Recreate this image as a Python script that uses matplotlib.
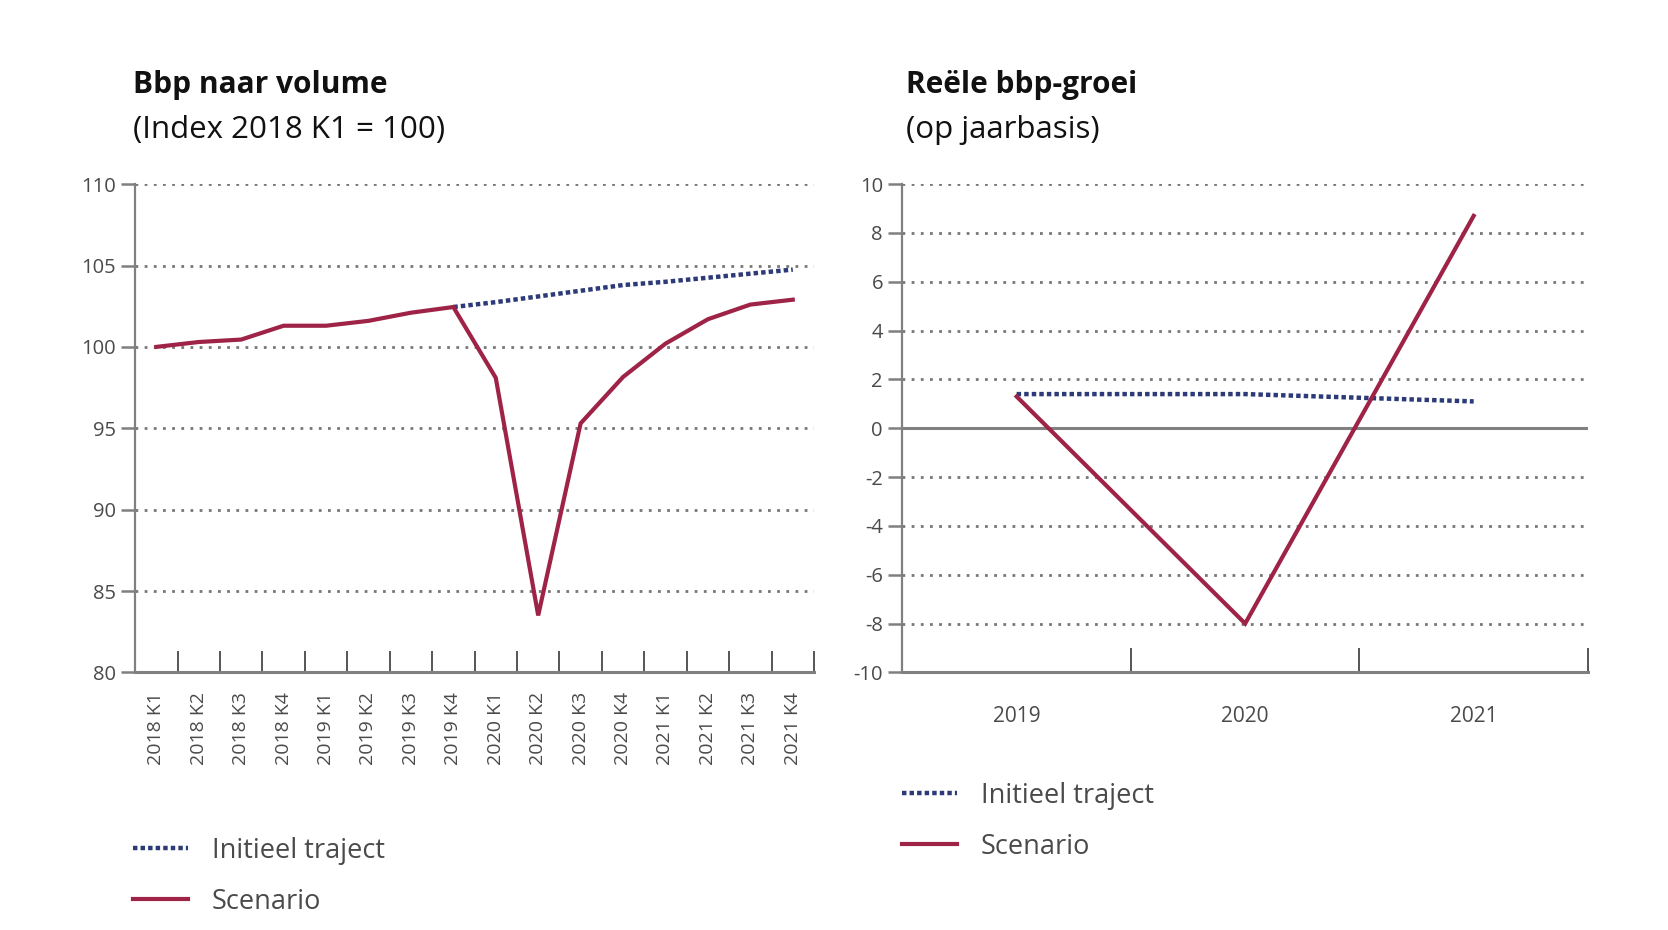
import matplotlib
matplotlib.use("Agg")
import matplotlib.pyplot as plt
from matplotlib.ticker import FixedLocator

# data
quarters = ["2018 K1", "2018 K2", "2018 K3", "2018 K4",
            "2019 K1", "2019 K2", "2019 K3", "2019 K4",
            "2020 K1", "2020 K2", "2020 K3", "2020 K4",
            "2021 K1", "2021 K2", "2021 K3", "2021 K4"]
volume_scenario = [100.0, 100.3, 100.45, 101.3, 101.3, 101.6, 102.1, 102.45,
                   98.1, 83.5, 95.3, 98.15, 100.2, 101.7, 102.6, 102.9]
# initial trajectory starts at 2019 K4
volume_initieel = [102.45, 102.75, 103.1, 103.45, 103.8, 104.0, 104.25, 104.5, 104.75]

years = ["2019", "2020", "2021"]
groei_scenario = [1.3, -8.0, 8.7]
groei_initieel = [1.4, 1.4, 1.1]

RED = "#9e2346"
BLUE = "#2c3a78"
GREY = "#808080"
TXT = "#4a4a4a"
FONT = "Open Sans"

plt.rcParams["font.family"] = [FONT, "DejaVu Sans"]

fig = plt.figure(figsize=(16.68, 9.30), dpi=100)
ax1 = fig.add_axes([0.081, 0.277, 0.407, 0.525])
ax2 = fig.add_axes([0.541, 0.277, 0.411, 0.525])

grid_style = dict(color="#777777", linestyle=(0, (1.0, 2.3)), linewidth=2.0, zorder=1)


def style_axes(ax):
    for s in ["top", "right"]:
        ax.spines[s].set_visible(False)
    ax.spines["left"].set_color(GREY)
    ax.spines["left"].set_linewidth(1.6)
    ax.spines["bottom"].set_color(GREY)
    ax.spines["bottom"].set_linewidth(2.2)
    ax.tick_params(axis="y", direction="out", length=10, width=1.8, color=GREY,
                   labelsize=14.5, labelcolor=TXT, pad=4)
    ax.tick_params(axis="x", which="major", direction="in", length=15, width=1.4,
                   color="#555555", labelbottom=False)
    ax.tick_params(axis="x", which="minor", length=0, labelcolor=TXT)


# --- left chart: Bbp naar volume
x_q = list(range(len(quarters)))
x_init = x_q[7:]
ax1.set_xlim(-0.5, len(quarters) - 0.5)
ax1.set_ylim(80, 110)
yt1 = [80, 85, 90, 95, 100, 105, 110]
ax1.set_yticks(yt1)
ax1.set_yticklabels([str(v) for v in yt1])
for v in yt1[1:]:
    ax1.axhline(v, **grid_style)
ax1.xaxis.set_major_locator(FixedLocator([i + 0.5 for i in x_q]))
ax1.xaxis.set_minor_locator(FixedLocator(x_q))
ax1.set_xticklabels(quarters, minor=True, rotation=90, fontsize=14)
style_axes(ax1)
ax1.tick_params(axis="x", which="minor", pad=14)

ax1.plot(x_init, volume_initieel, color=BLUE, linewidth=3.2,
         linestyle=(0, (1.0, 0.7)), zorder=3, label="Initieel traject")
ax1.plot(x_q, volume_scenario, color=RED, linewidth=3.0, zorder=4,
         solid_joinstyle="miter", label="Scenario")

# --- right chart: Reële bbp-groei
x_y = list(range(len(years)))
ax2.set_xlim(-0.5, len(years) - 0.5)
ax2.set_ylim(-10, 10)
yt2 = list(range(-10, 11, 2))
ax2.set_yticks(yt2)
ax2.set_yticklabels([str(v) for v in yt2])
for v in yt2[1:]:
    if v == 0:
        ax2.axhline(0, color=GREY, linewidth=2.2, zorder=1)
    else:
        ax2.axhline(v, **grid_style)
ax2.xaxis.set_major_locator(FixedLocator([i + 0.5 for i in x_y]))
ax2.xaxis.set_minor_locator(FixedLocator(x_y))
ax2.set_xticklabels(years, minor=True, fontsize=15)
style_axes(ax2)
ax2.tick_params(axis="x", which="major", length=17)
ax2.tick_params(axis="x", which="minor", pad=24)

ax2.plot(x_y, groei_initieel, color=BLUE, linewidth=3.2,
         linestyle=(0, (1.0, 0.7)), zorder=3, label="Initieel traject")
ax2.plot(x_y, groei_scenario, color=RED, linewidth=3.0, zorder=4,
         solid_joinstyle="miter", label="Scenario")

# titles
fig.text(0.080, 0.909, "Bbp naar volume", fontsize=21.5, fontweight="bold",
         color="#111111", va="center", ha="left")
fig.text(0.080, 0.860, "(Index 2018 K1 = 100)", fontsize=22.5,
         color="#111111", va="center", ha="left")
fig.text(0.543, 0.909, "Reële bbp-groei", fontsize=21.5, fontweight="bold",
         color="#111111", va="center", ha="left")
fig.text(0.543, 0.860, "(op jaarbasis)", fontsize=22.5,
         color="#111111", va="center", ha="left")

# legends
leg_kw = dict(frameon=False, fontsize=19.5, handlelength=2.0, handletextpad=0.9,
              labelspacing=0.85, loc="center left", borderaxespad=0,
              borderpad=0, labelcolor=TXT)
ax1.legend(bbox_to_anchor=(0.080, 0.058), bbox_transform=fig.transFigure, **leg_kw)
ax2.legend(bbox_to_anchor=(0.541, 0.117), bbox_transform=fig.transFigure, **leg_kw)

fig.savefig("out.png", dpi=100, facecolor="white")
